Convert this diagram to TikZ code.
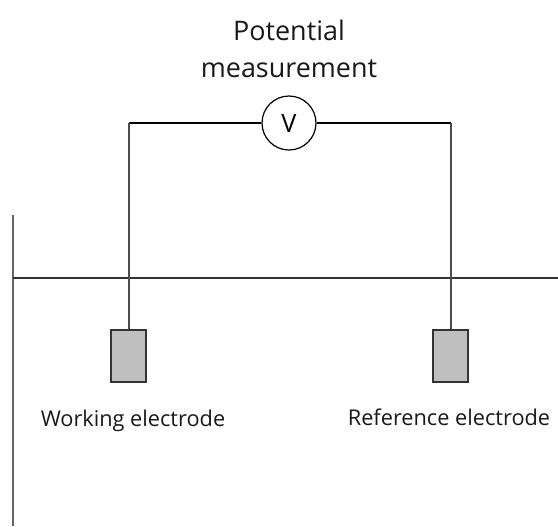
\documentclass[tikz,border=0pt]{standalone}
\usepackage{fontspec}
\setmainfont{Open Sans}
\tikzset{
  wire/.style={draw=black!70,line width=1.2pt},
  topwire/.style={draw=black,line width=1.6pt},
  surface/.style={draw=black!80,line width=0.9pt},
  wall/.style={draw=black!60,line width=1.4pt},
  electrode/.style={draw=black!80,fill=black!25,line width=1.1pt,minimum width=26.25pt,minimum height=39pt,inner sep=0pt},
  meter/.style={circle,draw=black,fill=white,line width=0.9pt,minimum size=40.5pt,inner sep=0pt,font=\fontsize{19}{21}\selectfont},
  label/.style={inner sep=0pt,font=\fontsize{16.3}{19}\selectfont,text=black!90},
  title/.style={inner sep=0pt,font=\fontsize{20.2}{24}\selectfont,text=black!90}
}
\begin{document}
\begin{tikzpicture}[x=0.75pt,y=-0.75pt]
\useasboundingbox (0,0) rectangle (558,526);
\coordinate (wallT) at (13,215);
\coordinate (wallB) at (13,526);
\coordinate (surfL) at (13,278);
\coordinate (surfR) at (558,278);
\coordinate (cornerL) at (129,123);
\coordinate (cornerR) at (451,123);
\node[electrode] (we) at (128.5,356) {};
\node[electrode] (re) at (450.5,356) {};
\node[meter] (v) at (289,123) {V};
\draw[wall] (wallT) -- (wallB);
\draw[surface] (surfL) -- (surfR);
\draw[topwire] (v.west) -- (cornerL);
\draw[topwire] (v.east) -- (cornerR);
\draw[wire] (cornerL) -- (cornerL |- we.north);
\draw[wire] (cornerR) -- (cornerR |- re.north);
\node[title] (t1) at (289,30.5) {Potential};
\node[title] (t2) at (289,69) {measurement};
\node[label] (l1) at (133,420.5) {Working electrode};
\node[label] (l2) at (449,417) {Reference electrode};
\end{tikzpicture}
\end{document}
